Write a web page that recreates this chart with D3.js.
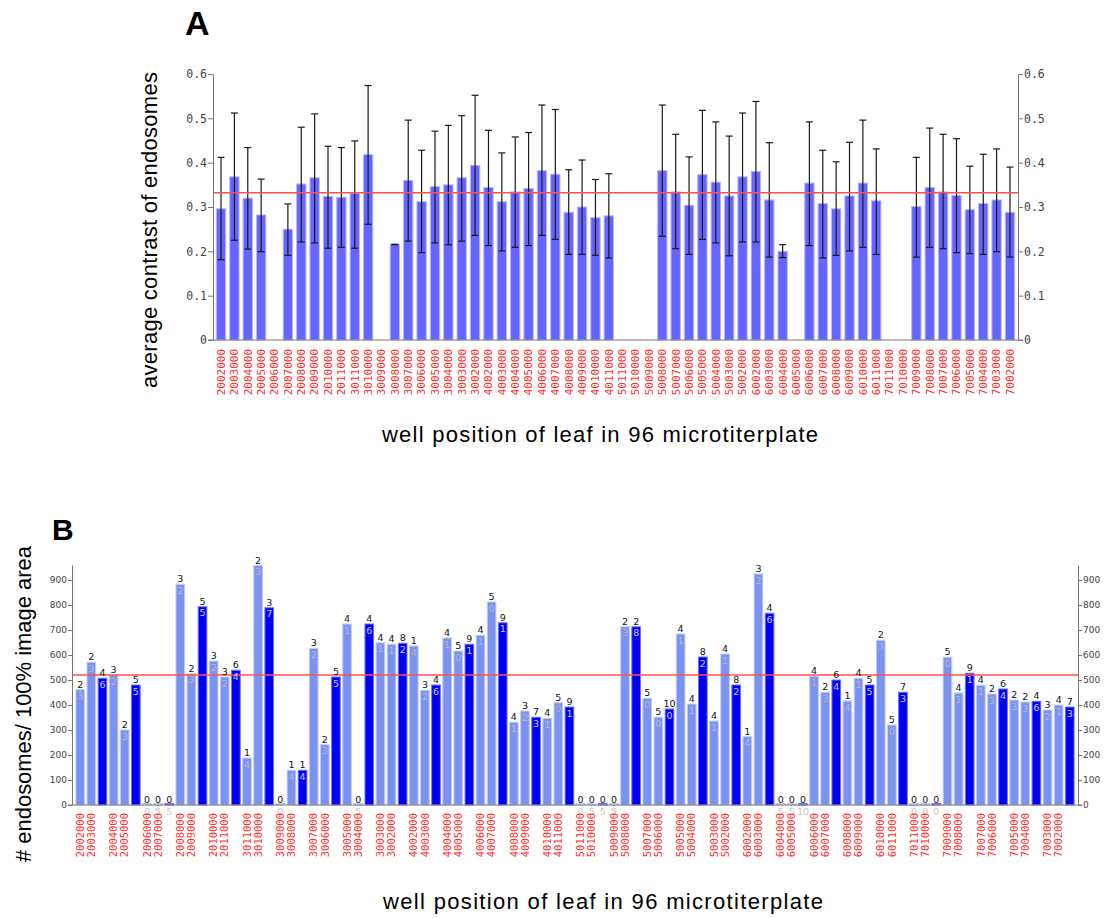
<!DOCTYPE html>
<html>
<head>
<meta charset="utf-8">
<script src="https://cdn.jsdelivr.net/npm/d3@7"></script>
<style>
  body { margin: 0; background: #fff; }
  text { font-family: "Liberation Sans", Arial, sans-serif; }
</style>
</head>
<body>
<svg id="chart"></svg>
<script>
const width = 1107;
const height = 918;

// wells on the plate, in plotting order
const wells = ["2002000","2003000","2004000","2005000","2006000","2007000","2008000","2009000","2010000","2011000",
  "3011000","3010000","3009000","3008000","3007000","3006000","3005000","3004000","3003000","3002000",
  "4002000","4003000","4004000","4005000","4006000","4007000","4008000","4009000","4010000","4011000",
  "5011000","5010000","5009000","5008000","5007000","5006000","5005000","5004000","5003000","5002000",
  "6002000","6003000","6004000","6005000","6006000","6007000","6008000","6009000","6010000","6011000",
  "7011000","7010000","7009000","7008000","7007000","7006000","7005000","7004000","7003000","7002000"];

// panel A: average contrast, with upper / lower error values (null = no data)
const contrast = [0.296,0.368,0.320,0.282,null,0.250,0.352,0.366,0.324,0.322,
  0.331,0.418,null,0.215,0.360,0.312,0.346,0.350,0.366,0.394,
  0.344,0.312,0.334,0.342,0.382,0.374,0.288,0.300,0.276,0.280,
  null,null,null,0.382,0.334,0.304,0.373,0.356,0.325,0.368,
  0.380,0.316,0.200,null,0.354,0.308,0.296,0.325,0.354,0.314,
  null,null,0.301,0.344,0.334,0.326,0.294,0.308,0.316,0.288];
const errHi = [0.412,0.512,0.434,0.363,null,0.307,0.480,0.510,0.437,0.434,
  0.449,0.574,null,0.216,0.496,0.428,0.471,0.484,0.506,0.552,
  0.473,0.422,0.458,0.468,0.530,0.520,0.384,0.406,0.362,0.375,
  null,null,null,0.530,0.464,0.413,0.518,0.492,0.460,0.512,
  0.538,0.445,0.215,null,0.492,0.428,0.402,0.446,0.496,0.431,
  null,null,0.412,0.478,0.464,0.454,0.392,0.419,0.431,0.390];
const errLo = [0.181,0.225,0.205,0.199,null,0.191,0.221,0.219,0.207,0.209,
  0.207,0.261,null,0.215,0.223,0.197,0.219,0.215,0.223,0.236,
  0.213,0.201,0.209,0.213,0.236,0.227,0.193,0.193,0.191,0.185,
  null,null,null,0.234,0.206,0.193,0.227,0.219,0.190,0.221,
  0.221,0.187,0.186,null,0.213,0.185,0.191,0.201,0.209,0.193,
  null,null,0.187,0.209,0.206,0.197,0.195,0.193,0.199,0.187];
const meanContrast = 0.332;
const ticksA = [0, 0.1, 0.2, 0.3, 0.4, 0.5, 0.6];

// panel B: three bars per pair of wells (well, well, pair total)
const endosomes = [461,571,507, 520,300,480, 0,0,0, 883,525,793, 576,512,539,
  188,958,789, 0,139,139, 627,241,512, 724,0,724, 649,643,647,
  636,459,480, 668,616,643, 679,812,729, 331,376,351, 347,409,392,
  0,0,0, 0,713,713, 427,351,384, 684,404,592, 336,604,480,
  273,924,767, 0,0,0, 515,451,500, 416,507,480, 659,320,451,
  0,0,0, 591,448,527, 479,444,464, 420,412,415, 380,400,392];
const topLab = ["2","2","4", "3","2","5", "0","0","0", "3","2","5", "3","3","6",
  "1","2","3", "0","1","1", "3","2","5", "4","0","4", "4","4","8",
  "1","3","4", "4","5","9", "4","5","9", "4","3","7", "4","5","9",
  "0","0","0", "0","2","2", "5","5","10", "4","4","8", "4","4","8",
  "1","3","4", "0","0","0", "4","2","6", "1","4","5", "2","5","7",
  "0","0","0", "5","4","9", "4","2","6", "2","2","4", "3","4","7"];
const innerLab = ["3","3","6", "2","3","5", "0","5","5", "2","3","5", "2","2","4",
  "4","3","7", "0","4","4", "2","3","5", "1","5","6", "1","1","2",
  "4","2","6", "1","0","1", "1","0","1", "1","2","3", "1","0","1",
  "0","5","5", "5","3","8", "0","0","0", "1","1","2", "1","1","2",
  "4","2","6", "5","5","10", "1","3","4", "4","1","5", "3","0","3",
  "0","0","0", "0","1","1", "1","3","4", "3","3","6", "2","1","3"];
const meanEndosomes = 520;
const ticksB = [0, 100, 200, 300, 400, 500, 600, 700, 800, 900];

const svg = d3.select("#chart")
  .attr("width", width)
  .attr("height", height);

// ---------- panel A ----------
const dataA = wells.map((w, i) => ({ well: w, v: contrast[i], hi: errHi[i], lo: errLo[i] }));

const xA = d3.scaleBand()
  .domain(wells)
  .range([213, 1018])
  .paddingInner(0.3)
  .paddingOuter(0.25);

const yA = d3.scaleLinear()
  .domain([0, 0.6])
  .range([340, 74]);

const fmtA = d => d === 0 ? "0" : d3.format(".1f")(d);

const gA = svg.append("g");

gA.selectAll("rect")
  .data(dataA.filter(d => d.v !== null))
  .join("rect")
  .attr("x", d => xA(d.well))
  .attr("y", d => yA(d.v))
  .attr("width", xA.bandwidth())
  .attr("height", d => yA(0) - yA(d.v))
  .attr("fill", "#6464ff")
  .attr("stroke", "#b8b8ff")
  .attr("stroke-width", 1);

const err = gA.append("g")
  .attr("stroke", "#1a1a1a")
  .attr("stroke-width", 1.2)
  .selectAll("g")
  .data(dataA.filter(d => d.hi !== null))
  .join("g");

const cx = d => xA(d.well) + xA.bandwidth() / 2;
err.append("line")
  .attr("x1", cx).attr("x2", cx)
  .attr("y1", d => yA(d.hi)).attr("y2", d => yA(d.lo));
err.append("line")
  .attr("x1", d => cx(d) - 3.5).attr("x2", d => cx(d) + 3.5)
  .attr("y1", d => yA(d.hi)).attr("y2", d => yA(d.hi));
err.append("line")
  .attr("x1", d => cx(d) - 3.5).attr("x2", d => cx(d) + 3.5)
  .attr("y1", d => yA(d.lo)).attr("y2", d => yA(d.lo));

gA.append("line")
  .attr("x1", 213).attr("x2", 1018)
  .attr("y1", yA(meanContrast)).attr("y2", yA(meanContrast))
  .attr("stroke", "#ff5050")
  .attr("stroke-width", 1.5);

const axA = (sel, axis) => {
  sel.call(axis);
  sel.select(".domain").attr("stroke", "#777");
  sel.selectAll(".tick line").attr("stroke", "#777");
  sel.selectAll(".tick text")
    .attr("fill", "#444")
    .style("font-family", "'DejaVu Sans Mono', monospace")
    .style("font-size", "11.5px");
};

gA.append("g")
  .attr("transform", "translate(213,0)")
  .call(axA, d3.axisLeft(yA).tickValues(ticksA).tickFormat(fmtA).tickSize(5).tickSizeOuter(0).tickPadding(1));
gA.append("g")
  .attr("transform", "translate(1018,0)")
  .call(axA, d3.axisRight(yA).tickValues(ticksA).tickFormat(fmtA).tickSize(5).tickSizeOuter(0).tickPadding(1));

gA.append("line")
  .attr("x1", 208).attr("x2", 1023)
  .attr("y1", yA(0)).attr("y2", yA(0))
  .attr("stroke", "#777");

gA.append("g")
  .selectAll("text")
  .data(wells)
  .join("text")
  .attr("transform", d => `translate(${xA(d) + xA.bandwidth() / 2},349) rotate(-90)`)
  .attr("dy", "0.35em")
  .attr("text-anchor", "end")
  .attr("fill", "#ff3030")
  .style("font-family", "'DejaVu Sans Mono', monospace")
  .style("font-size", "11px")
  .text(d => d);

gA.append("text")
  .attr("transform", "translate(157,230) rotate(-90)")
  .attr("text-anchor", "middle")
  .attr("textLength", 316)
  .attr("lengthAdjust", "spacing")
  .style("font-size", "22px")
  .text("average contrast of endosomes");

gA.append("text")
  .attr("x", 600).attr("y", 442)
  .attr("text-anchor", "middle")
  .attr("textLength", 436)
  .attr("lengthAdjust", "spacing")
  .style("font-size", "22px")
  .text("well position of leaf in 96 microtiterplate");

gA.append("text")
  .attr("x", 185).attr("y", 35)
  .style("font-size", "34px")
  .style("font-weight", "bold")
  .text("A");

// ---------- panel B ----------
const keysB = [];
for (let g = 0; g < wells.length / 2; g++) {
  keysB.push(wells[2 * g], wells[2 * g + 1], "pair" + g);
}
const dataB = keysB.map((k, i) => ({
  key: k, v: endosomes[i], top: topLab[i], inner: innerLab[i], pair: i % 3 === 2
}));

const xB = d3.scaleBand()
  .domain(keysB)
  .range([72, 1078])
  .paddingInner(0.22)
  .paddingOuter(0.35);

const yB = d3.scaleLinear()
  .domain([0, 960])
  .range([805, 565]);

const gB = svg.append("g");

gB.selectAll("rect")
  .data(dataB)
  .join("rect")
  .attr("x", d => xB(d.key))
  .attr("y", d => yB(d.v) - (d.v === 0 ? 1.5 : 0))
  .attr("width", xB.bandwidth())
  .attr("height", d => d.v === 0 ? 1.5 : yB(0) - yB(d.v))
  .attr("fill", d => d.pair ? (d.v === 0 ? "#8a8aff" : "#0000f0") : (d.v === 0 ? "#c4ccf8" : "#7b93f0"))
  .attr("stroke", d => d.pair ? "#7070ff" : "#c4ccf8")
  .attr("stroke-width", 1);

gB.append("line")
  .attr("x1", 72).attr("x2", 1078)
  .attr("y1", yB(meanEndosomes)).attr("y2", yB(meanEndosomes))
  .attr("stroke", "#ff5050")
  .attr("stroke-width", 1.5);

const cxB = d => xB(d.key) + xB.bandwidth() / 2;

gB.append("g")
  .selectAll("text")
  .data(dataB)
  .join("text")
  .attr("x", cxB)
  .attr("y", d => yB(d.v) - 2)
  .attr("text-anchor", "middle")
  .attr("fill", "#111")
  .style("font-family", "'DejaVu Sans', sans-serif")
  .style("font-size", "9.5px")
  .text(d => d.top);

gB.append("g")
  .selectAll("text")
  .data(dataB)
  .join("text")
  .attr("x", cxB)
  .attr("y", d => yB(d.v) + 9.5)
  .attr("text-anchor", "middle")
  .attr("fill", d => d.v === 0 ? "#c8c8c8" : (d.pair ? "#c8c8ff" : "#b4b8c8"))
  .style("font-family", "'DejaVu Sans', sans-serif")
  .style("font-size", "9.5px")
  .text(d => d.inner);

const axB = (sel, axis) => {
  sel.call(axis);
  sel.select(".domain").attr("stroke", "#777");
  sel.selectAll(".tick line").attr("stroke", "#777");
  sel.selectAll(".tick text")
    .attr("fill", "#444")
    .style("font-family", "'DejaVu Sans', sans-serif")
    .style("font-size", "9px");
};

gB.append("g")
  .attr("transform", "translate(72,0)")
  .call(axB, d3.axisLeft(yB).tickValues(ticksB).tickSize(4).tickSizeOuter(0).tickPadding(1));
gB.append("g")
  .attr("transform", "translate(1078,0)")
  .call(axB, d3.axisRight(yB).tickValues(ticksB).tickSize(4).tickSizeOuter(0).tickPadding(1));

gB.append("line")
  .attr("x1", 68).attr("x2", 1082)
  .attr("y1", yB(0)).attr("y2", yB(0))
  .attr("stroke", "#777");

gB.append("g")
  .selectAll("text")
  .data(dataB.filter(d => !d.pair))
  .join("text")
  .attr("transform", d => `translate(${cxB(d)},813) rotate(-90)`)
  .attr("dy", "0.35em")
  .attr("text-anchor", "end")
  .attr("fill", "#ff3030")
  .style("font-family", "'DejaVu Sans Mono', monospace")
  .style("font-size", "10.5px")
  .text(d => d.key);

gB.append("text")
  .attr("transform", "translate(31,704) rotate(-90)")
  .attr("text-anchor", "middle")
  .attr("textLength", 316)
  .attr("lengthAdjust", "spacing")
  .style("font-size", "22px")
  .text("# endosomes/ 100% image area");

gB.append("text")
  .attr("x", 603).attr("y", 909)
  .attr("text-anchor", "middle")
  .attr("textLength", 440)
  .attr("lengthAdjust", "spacing")
  .style("font-size", "22px")
  .text("well position of leaf in 96 microtiterplate");

gB.append("text")
  .attr("x", 52).attr("y", 540)
  .style("font-size", "30px")
  .style("font-weight", "bold")
  .text("B");
</script>
</body>
</html>
